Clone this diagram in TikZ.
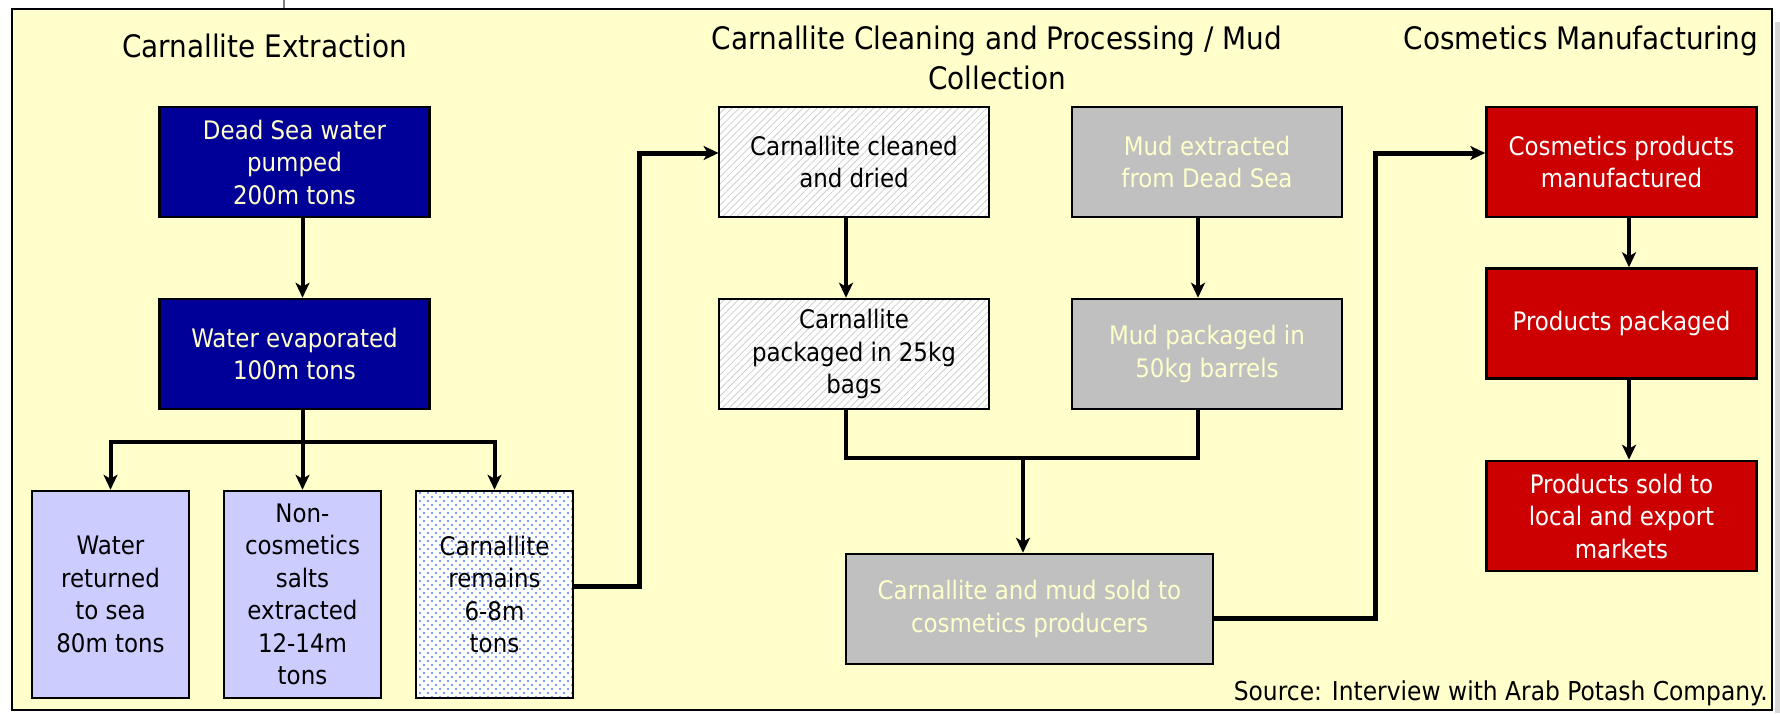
\documentclass[tikz,border=0pt]{standalone}
\usepackage{fontspec}
\setmainfont{DejaVu Sans Condensed}
\usetikzlibrary{arrows.meta,patterns.meta}

\definecolor{paper}{HTML}{FFFFCC}
\definecolor{navyfill}{HTML}{000099}
\definecolor{lavfill}{HTML}{CCCCFF}
\definecolor{greyfill}{HTML}{C0C0C0}
\definecolor{redfill}{HTML}{CC0000}
\definecolor{paletext}{HTML}{FFFFCC}
\definecolor{dotblue}{HTML}{4D7BFF}
\definecolor{hatchgrey}{HTML}{CFCFCF}
\definecolor{edgegrey}{HTML}{D6D6D6}

\begin{document}
\begin{tikzpicture}[x=1pt,y=-1pt,
  title/.style={inner sep=0pt, font=\fontsize{31}{40}\selectfont},
  box/.style={rectangle, draw=black, line width=2.5pt, align=center,
    inner sep=0pt, font=\fontsize{25.5}{32.5}\selectfont},
  wide/.style={minimum width=270pt, minimum height=110pt},
  tall/.style={minimum width=157pt, minimum height=207pt},
  navybox/.style={box, wide, fill=navyfill, text=paletext},
  lavbox/.style={box, tall, fill=lavfill, text=black},
  dotbox/.style={box, tall, text=black, preaction={fill=white},
    preaction={pattern={Dots[distance=8pt,radius=1.1pt]}, pattern color=dotblue},
    pattern={Dots[distance=8pt,radius=1.1pt,xshift=4pt,yshift=4pt]}, pattern color=dotblue},
  hatchbox/.style={box, wide, text=black, preaction={fill=white},
    pattern={Lines[angle=45,distance=5pt,line width=0.8pt]}, pattern color=hatchgrey},
  greybox/.style={box, wide, fill=greyfill, text=paletext},
  redbox/.style={box, wide, fill=redfill, text=white},
  link/.style={line width=4pt, line join=miter},
  flow/.style={link, -{Stealth[length=15pt,width=14pt,inset=4pt]}},
  longflow/.style={flow, line width=5pt}
]
\useasboundingbox (0,0) rectangle (1780,713);
\fill[white] (0,0) rectangle (1780,713);
\fill[edgegrey] (1775,22) rectangle (1780,713);
\draw[gray, line width=2pt] (284,0) -- (284,9);
\draw[fill=paper, line width=2pt] (12,9) rectangle (1772,710);

% section headings
\node[title, anchor=base] (hExtr) at (264.5,57) {Carnallite Extraction};
\node[title, anchor=base] (hProcA) at (997,49) {Carnallite Cleaning and Processing / Mud};
\node[title, anchor=base] (hProcB) at (997,89) {Collection};
\node[title, anchor=base] (hCosm) at (1581,49) {Cosmetics Manufacturing};

% extraction stage
\node[navybox] (dsw) at (294.5,162) {Dead Sea water\\pumped\\200m tons};
\node[navybox] (wev) at (294.5,354) {Water evaporated\\100m tons};
\node[lavbox] (wr) at (110.5,594.5) {Water\\returned\\to sea\\80m tons};
\node[lavbox] (nc) at (302.5,594.5) {Non-\\cosmetics\\salts\\extracted\\12-14m\\tons};
\node[dotbox] (cr) at (494.5,594.5) {Carnallite\\remains\\6-8m\\tons};

% cleaning, processing and mud collection
\node[hatchbox] (cl) at (854,162) {Carnallite cleaned\\and dried};
\node[hatchbox] (cp) at (854,354) {Carnallite\\packaged in 25kg\\bags};
\node[greybox] (me) at (1207,162) {Mud extracted\\from Dead Sea};
\node[greybox] (mp) at (1207,354) {Mud packaged in\\50kg barrels};
\node[greybox, minimum width=367pt] (sold) at (1029.5,609) {Carnallite and mud sold to\\cosmetics producers};

% cosmetics manufacturing
\node[redbox] (cm) at (1621.5,162) {Cosmetics products\\manufactured};
\node[redbox] (pp) at (1621.5,323.5) {Products packaged};
\node[redbox] (ps) at (1621.5,516) {Products sold to\\local and export\\markets};

\node[anchor=base east, inner sep=0pt, font=\fontsize{26}{30}\selectfont] (src) at (1768,700)
  {Source: Interview with Arab Potash Company.};

% routing points
\coordinate (split) at (302.5,442);
\coordinate (bendA) at (639,153);
\coordinate (colC) at (846,458);
\coordinate (colM) at (1198,458);
\coordinate (merge) at (1023,458);
\coordinate (bendB) at (1375,153);
\coordinate (colR) at (1629,0);

% connectors
\draw[flow] (dsw.south -| nc.north) -- (wev.north -| nc.north);
\draw[flow] (wev.south -| nc.north) -- (nc.north);
\draw[flow] (split) -| (wr.north);
\draw[flow] (split) -| (cr.north);
\draw[longflow] ([yshift=8.5pt]cr.east) -| (bendA) -- (bendA -| cl.west);

\draw[flow] (cl.south -| colC) -- (cp.north -| colC);
\draw[flow] (me.south -| colM) -- (mp.north -| colM);
\draw[link] (cp.south -| colC) |- (merge) -| (mp.south -| colM);
\draw[flow] (merge) -- (sold.north -| merge);
\draw[longflow] ([yshift=-9pt]sold.east) -| (bendB) -- (bendB -| cm.west);

\draw[flow] (cm.south -| colR) -- (pp.north -| colR);
\draw[flow] (pp.south -| colR) -- (ps.north -| colR);
\end{tikzpicture}
\end{document}
